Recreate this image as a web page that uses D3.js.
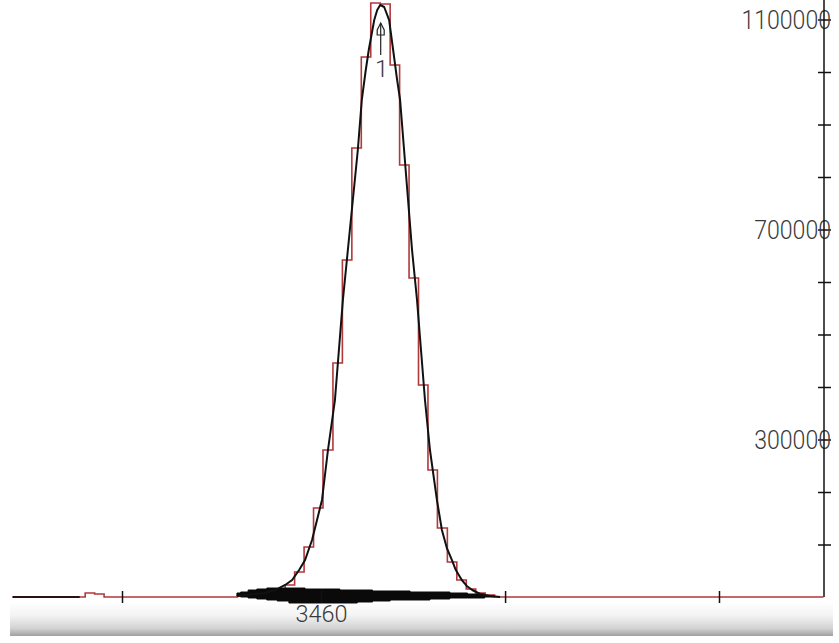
<!DOCTYPE html>
<html>
<head>
<meta charset="utf-8">
<script src="https://cdn.jsdelivr.net/npm/d3@7"></script>
<style>
  html, body { margin: 0; padding: 0; background: #ffffff; }
  svg { display: block; }
</style>
</head>
<body>
<svg id="chart" width="839" height="643"></svg>
<script>
// ---------------- data ----------------
// black profile trace (m/z, intensity)
const curveMz = [3443.1, 3446.7, 3448.7, 3450.8, 3452.8, 3454.2, 3455.6, 3456.8, 3458.2, 3459.2,
  3460.2, 3461.4, 3462.8, 3463.6, 3464.4, 3465.4, 3466.4, 3467.4, 3468.2, 3469.0,
  3469.6, 3470.7, 3471.3, 3471.9, 3472.7, 3473.7, 3474.5, 3475.3, 3475.9, 3476.7,
  3477.5, 3478.3, 3479.3, 3480.1, 3480.9, 3481.9, 3483.3, 3484.3, 3485.3, 3486.3,
  3487.1, 3488.3, 3489.3, 3490.4, 3492.0, 3494.0, 3496.0];
const curveIntensity = [1900, 5700, 7600, 13300, 22900, 32400, 51400, 70500, 108600, 146700,
  184800, 280000, 375200, 470500, 565700, 661000, 756200, 851400, 946700, 1003800,
  1041900, 1099000, 1118100, 1127600, 1123800, 1099000, 1041900, 984800, 946700, 851400,
  756200, 661000, 565700, 470500, 375200, 280000, 184800, 127600, 93300, 70500,
  51400, 32400, 21000, 13300, 5700, 1900, 0];
// short black baseline trace at the far left
const leadMz = [3398, 3411.5];
const leadIntensity = [0, 0];

// red histogram: bin left edges and heights (0 = back to baseline)
const histEdges = [3398, 3412.6, 3414.5, 3416.4,
  3443.2, 3445.1, 3447.0, 3448.9, 3450.8, 3452.8, 3454.7, 3456.6, 3458.5, 3460.4,
  3462.4, 3464.3, 3466.2, 3468.1, 3470.0, 3471.9, 3473.9, 3475.8, 3477.7, 3479.6,
  3481.5, 3483.4, 3485.4, 3487.3, 3489.2, 3491.1, 3493.0, 3494.9, 3561];
const histCounts = [0, 7600, 5700, 0,
  1900, 3800, 5700, 7600, 13300, 22900, 47600, 95200, 169500, 280000,
  445700, 641900, 855200, 1028600, 1131400, 1129500, 1013300, 822900, 607600, 403800,
  241900, 131400, 66700, 32400, 15200, 7600, 3800, 0, 0];

// baseline noise band (m/z, upper, lower intensity)
const noiseMz = [3443.1, 3444.6, 3446.1, 3448.1, 3450.1, 3452.3, 3454.8, 3458.8, 3461.8, 3465.8, 3468.8,
  3471.9, 3475.9, 3479.9, 3483.9, 3487.9, 3491.0, 3494.8];
const noiseHigh = [7600, 9500, 13300, 15200, 17100, 17100, 17100, 15200, 15200, 13300, 13300,
  11400, 11400, 9500, 9500, 7600, 5700, 1900];
const noiseLow = [1900, 0, -1900, -3800, -5700, -7600, -11400, -11400, -11400, -11400, -9500,
  -7600, -5700, -5700, -3800, -1900, -1900, 0];

// axes
const xTickValues = [3420, 3460, 3497, 3540];
const xTickLabels = ["", "3460", "", ""];
const yTickValues = [100000, 200000, 300000, 400000, 500000, 600000, 700000, 800000, 900000, 1000000, 1100000];
const yTickLabels = ["", "", "300000", "", "", "", "700000", "", "", "", "1100000"];

// peak annotation
const peakMz = [3472.0];
const peakLabels = ["1"];

// ---------------- drawing ----------------
const svg = d3.select("#chart");
const FONT = "Roboto, 'Liberation Sans', Arial, sans-serif";

const x = d3.scaleLinear().domain([3420, 3540]).range([122, 719]);
const y = d3.scaleLinear().domain([0, 1100000]).range([597, 19.5]);

// bottom shaded band
const defs = svg.append("defs");
const grad = defs.append("linearGradient").attr("id", "band").attr("x1", 0).attr("y1", 0).attr("x2", 0).attr("y2", 1);
grad.append("stop").attr("offset", "0%").attr("stop-color", "#ffffff");
grad.append("stop").attr("offset", "40%").attr("stop-color", "#f3f3f3");
grad.append("stop").attr("offset", "78%").attr("stop-color", "#d2d2d2");
grad.append("stop").attr("offset", "100%").attr("stop-color", "#a0a0a0");
svg.append("rect").attr("x", 10).attr("y", 602).attr("width", 823).attr("height", 34).attr("fill", "url(#band)");

// red histogram
const histData = histEdges.map((e, i) => [e, histCounts[i]]);
svg.append("path")
  .datum(histData)
  .attr("fill", "none")
  .attr("stroke", "#b0393b")
  .attr("stroke-width", 1.6)
  .attr("d", d3.line().x(d => x(d[0])).y(d => y(d[1])).curve(d3.curveStepAfter));

// noise band
const noiseData = noiseMz.map((m, i) => ({ m, hi: noiseHigh[i], lo: noiseLow[i] }));
svg.append("path")
  .datum(noiseData)
  .attr("fill", "#0a0a0a")
  .attr("stroke", "#0a0a0a")
  .attr("stroke-width", 1)
  .attr("d", d3.area().x(d => x(d.m)).y0(d => y(d.lo)).y1(d => y(d.hi)).curve(d3.curveStep));

// black traces
const lineGen = d3.line().x(d => x(d[0])).y(d => y(d[1]));
svg.append("path")
  .datum(curveMz.map((m, i) => [m, curveIntensity[i]]))
  .attr("fill", "none").attr("stroke", "#111").attr("stroke-width", 2)
  .attr("stroke-linejoin", "round")
  .attr("d", lineGen);
svg.append("path")
  .datum(leadMz.map((m, i) => [m, leadIntensity[i]]))
  .attr("fill", "none").attr("stroke", "#2a1010").attr("stroke-width", 2)
  .attr("d", lineGen);

// x axis ticks
const xAxis = svg.append("g").attr("transform", "translate(0,591)")
  .call(d3.axisBottom(x).tickValues(xTickValues).tickSize(12)
    .tickFormat((d, i) => xTickLabels[i]));
xAxis.select(".domain").remove();
xAxis.selectAll(".tick line").attr("stroke", "#111").attr("stroke-width", 1.5);
xAxis.selectAll(".tick text")
  .attr("y", 31).attr("dy", 0)
  .attr("font-family", FONT).attr("font-weight", 300).attr("font-size", 24).attr("fill", "#3a3a3a")
  .each(function () { if (this.textContent) d3.select(this).attr("textLength", 52).attr("lengthAdjust", "spacingAndGlyphs"); });

// right axis
const yAxis = svg.append("g").attr("transform", "translate(824,0)")
  .call(d3.axisRight(y).tickValues(yTickValues).tickSize(7)
    .tickFormat((d, i) => yTickLabels[i]));
yAxis.select(".domain").remove();
yAxis.append("line").attr("x1", 0).attr("x2", 0).attr("y1", 0).attr("y2", y(0))
  .attr("stroke", "#111").attr("stroke-width", 1.5);
yAxis.selectAll(".tick line").attr("x1", -6).attr("x2", 7).attr("stroke", "#111").attr("stroke-width", 1.5);
yAxis.selectAll(".tick text")
  .attr("x", 7).attr("dy", "0.36em")
  .attr("text-anchor", "end")
  .attr("font-family", FONT).attr("font-weight", 300).attr("font-size", 26).attr("fill", "#3a3a3a")
  .each(function () {
    const t = this.textContent;
    if (t) d3.select(this).attr("textLength", t.length * 12.8).attr("lengthAdjust", "spacingAndGlyphs");
  });

// peak annotation
peakMz.forEach((m, i) => {
  const px = x(m);
  const g = svg.append("g");
  g.append("path")
    .attr("d", `M${px},23 L${px - 3.5},30 L${px - 3.5},35 L${px + 3.5},35 L${px + 3.5},30 Z`)
    .attr("fill", "none").attr("stroke", "#222").attr("stroke-width", 1.2);
  g.append("line").attr("x1", px).attr("x2", px).attr("y1", 23).attr("y2", 55)
    .attr("stroke", "#222").attr("stroke-width", 1.2);
  g.append("text").attr("x", px + 1).attr("y", 77)
    .attr("text-anchor", "middle")
    .attr("font-family", FONT).attr("font-weight", 300).attr("font-size", 24).attr("fill", "#3a3a3a")
    .text(peakLabels[i]);
});
</script>
</body>
</html>
